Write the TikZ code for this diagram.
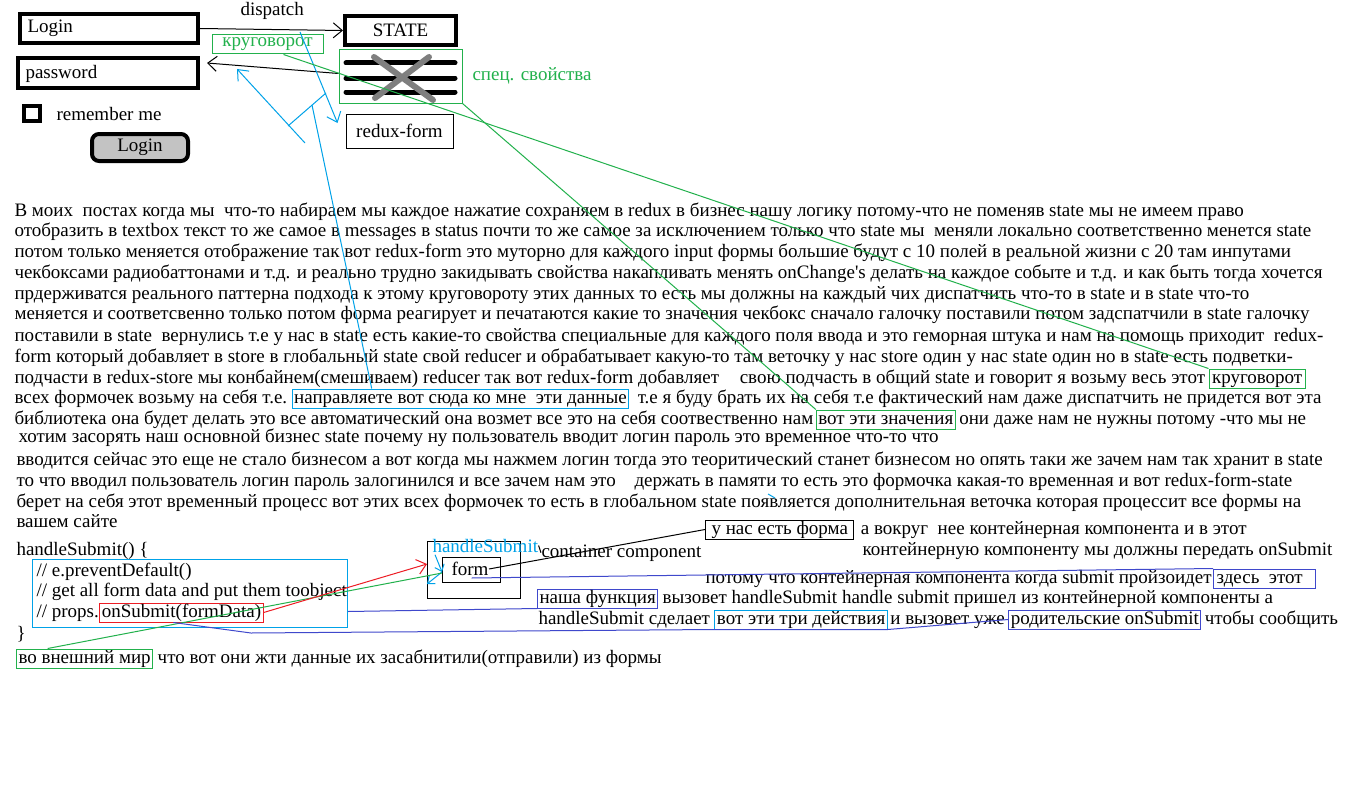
\documentclass[tikz,border=0pt]{standalone}
\usepackage{fontspec}
\setmainfont{Liberation Serif}
\usetikzlibrary{positioning,arrows.meta}

\definecolor{paintblue}{RGB}{0,162,232}
\definecolor{paintgreen}{RGB}{34,177,76}
\definecolor{paintnavy}{RGB}{63,72,204}
\definecolor{paintred}{RGB}{237,28,36}
\definecolor{paintgrey}{RGB}{127,127,127}
\definecolor{paintsilver}{RGB}{195,195,195}

\tikzset{
  txt/.style={anchor=base west, inner sep=0pt},
  field/.style={draw, line width=4pt, inner sep=0pt},
  hlbox/.style={draw=#1, anchor=base west, inner xsep=2pt, inner ysep=0pt, text height=14pt, text depth=5pt},
  barb/.style={-{Straight Barb[length=9pt,width=15pt]}},
}

\begin{document}
\begin{tikzpicture}[x=1pt,y=-1pt,line width=1pt,font=\fontsize{19}{21}\selectfont]
            \useasboundingbox[fill=white] (0,0) rectangle (1370,800);

            % login form mock-up
            \node[field, minimum width=178pt, minimum height=29pt] (loginfield) at (109,28.5) {};
            \node[txt] (logintxt) at (27,33) {Login};
            \node[field, minimum width=180pt, minimum height=30pt] (passfield) at (108,73) {};
            \node[txt] (passtxt) at (25,78) {password};
            \node[field, minimum width=16pt, minimum height=15pt] (checkbox) at (32,113.5) {};
            \node[txt] (remember) at (56,120) {remember me};
            \node[field, rounded corners=7pt, fill=paintsilver, minimum width=96pt, minimum height=27pt] (loginbtn) at (140,147.5) {Login};

            % state and redux-form
            \node[field, minimum width=111pt, minimum height=29pt] (state) at (400.5,30.5) {STATE};
            \node[draw=paintgreen, inner sep=0pt, minimum width=123pt, minimum height=53pt] (props) at (400.5,76.5) {};
            \foreach \y in {63,78,92}
                \draw[line width=5pt, line cap=round] (346,\y) -- (455,\y);
            \draw[paintgrey, line width=6pt, line cap=round] (374,57) -- (433,100) (429,57) -- (375,98);
            \node[txt, text=paintgreen] (spectxt) at (472,81) {спец. свойства};
            \node[draw, inner sep=0pt, minimum width=107pt, minimum height=34pt] (reduxform) at (399.5,131) {redux-form};
            \node[txt] (dispatch) at (240,16) {dispatch};
            \node[draw=paintgreen, text=paintgreen, inner sep=0pt, minimum width=111pt, minimum height=19pt] (krug1) at (267.5,44.5) {круговорот};

            % main text
            \node[txt] (l1) at (14,216) {В моих\ \ постах когда мы\ \ что-то набираем мы каждое нажатие сохраняем в redux в бизнес нашу логику потому-что не поменяв state мы не имеем право};
            \node[txt] (l2) at (14,236) {отобразить в textbox текст то же самое в messages в status почти то же самое за исключением только что state мы\ \ меняли локально соответственно менется state};
            \node[txt] (l3) at (14,257) {потом только меняется отображение так вот redux-form это муторно для каждого input формы большие будут с 10 полей в реальной жизни с 20 там инпутами};
            \node[txt] (l4) at (14,278) {чекбоксами радиобаттонами и т.д. и реально трудно закидывать свойства накапливать менять onChange\textquotesingle s делать на каждое событе и т.д. и как быть тогда хочется};
            \node[txt] (l5) at (14,299) {прдерживатся реального паттерна подхода к этому круговороту этих данных то есть мы должны на каждый чих диспатчить что-то в state и в state что-то};
            \node[txt] (l6) at (14,319) {меняется и соответсвенно только потом форма реагирует и печатаются какие то значения чекбокс сначало галочку поставили потом задспатчили в state галочку};
            \node[txt] (l7) at (14,341) {поставили в state\ \ вернулись т.е у нас в state есть какие-то свойства специальные для каждого поля ввода и это геморная штука и нам на помощь приходит\ \ redux-};
            \node[txt] (l8) at (14,362) {form который добавляет в store в глобальный state свой reducer и обрабатывает какую-то там веточку у нас store один у нас state один но в state есть подветки-};
            \node[txt] (l9) at (14,383) {подчасти в redux-store мы конбайнем(смешиваем) reducer так вот redux-form добавляет\hspace{16pt} свою подчасть в общий state и говорит я возьму весь этот};
            \node[hlbox=paintgreen, inner xsep=3pt] (krug2) at ([xshift=3pt]l9.base east) {круговорот};
            \node[txt] (l10) at (14,403) {всех формочек возьму на себя т.е.};
            \node[hlbox=paintblue] (napr) at ([xshift=4pt]l10.base east) {направляете вот сюда ко мне\ \ эти данные};
            \node[txt] (l10b) at ([xshift=8pt]napr.base east) {т.е я буду брать их на себя т.е фактический нам даже диспатчить не придется вот эта};
            \node[txt] (l11) at (14,424) {библиотека она будет делать это все автоматический она возмет все это на себя соотвественно нам};
            \node[hlbox=paintgreen] (znach) at ([xshift=2pt]l11.base east) {вот эти значения};
            \node[txt] (l11b) at ([xshift=3pt]znach.base east) {они даже нам не нужны потому -что мы не};
            \node[txt] (l12) at (18,442) {хотим засорять наш основной бизнес state почему ну пользователь вводит логин пароль это временное что-то что};
            \node[txt] (l13) at (16,465) {вводится сейчас это еще не стало бизнесом а вот когда мы нажмем логин тогда это теоритический станет бизнесом но опять таки же зачем нам так хранит в state};
            \node[txt] (l14) at (16,486) {то что вводил пользователь логин пароль залогинился и все зачем нам это\hspace{14pt} держать в памяти то есть это формочка какая-то временная и вот redux-form-state};
            \node[txt] (l15) at (16,507) {берет на себя этот временный процесс вот этих всех формочек то есть в глобальном state появляется дополнительная веточка которая процессит все формы на};
            \node[txt] (l16) at (16,527) {вашем сайте};

            % handleSubmit code
            \node[txt] (hs) at (16,555) {handleSubmit() \{};
            \node[draw=paintblue, inner sep=0pt, minimum width=315pt, minimum height=68pt, anchor=north west] (codebox) at (32,559) {};
            \node[txt] (c1) at (36,576) {// e.preventDefault()};
            \node[txt] (c2) at (36,596) {// get all form data and put them toobject};
            \node[txt] (c3) at (36,617) {// props.};
            \node[hlbox=paintred] (onsub) at (c3.base east) {onSubmit(formData)};
            \node[txt] (close) at (16,639) {\}};
            \node[hlbox=paintgreen] (vneshn) at (16,663) {во внешний мир};
            \node[txt] (vneshnb) at ([xshift=4pt]vneshn.base east) {что вот они жти данные их засабнитили(отправили) из формы};

            % container component
            \node[draw, inner sep=0pt, minimum width=93pt, minimum height=57pt, anchor=north west] (container) at (427,541) {};
            \node[draw, inner sep=0pt, minimum width=58pt, minimum height=25pt, anchor=north west] (formbox) at (442,557) {};
            \node[inner sep=0pt] (formtxt) at (470,569) {form};
            \node[txt, text=paintblue] (hsub) at (432,552) {handleSubmit};
            \node[txt] (contcomp) at (541,557) {container component};
            \node[hlbox=black, inner xsep=6pt] (nasforma) at (705,534) {у нас есть форма};
            \node[txt] (r1) at ([xshift=6pt]nasforma.base east) {а вокруг\ \ нее контейнерная компонента и в этот};
            \node[txt] (r2) at (862,555) {контейнерную компоненту мы должны передать onSubmit};
            \node[txt] (r3) at (705,583) {потому что контейнерная компонента когда submit пройзоидет};
            \node[hlbox=paintnavy, inner xsep=3pt] (zdes) at ([xshift=1pt]r3.base east) {здесь\ \ этот\ \ \ };
            \node[hlbox=paintnavy] (nasha) at (537,603) {наша функция};
            \node[txt] (r4) at ([xshift=4pt]nasha.base east) {вызовет handleSubmit handle submit пришел из контейнерной компоненты а};
            \node[txt] (r5) at (538,624) {handleSubmit сделает};
            \node[hlbox=paintblue] (tri) at ([xshift=4pt]r5.base east) {вот эти три действия};
            \node[txt] (r5b) at ([xshift=2pt]tri.base east) {и вызовет уже};
            \node[hlbox=paintnavy] (roditel) at ([xshift=3pt]r5b.base east) {родительские onSubmit};
            \node[txt] (r5c) at ([xshift=3pt]roditel.base east) {чтобы сообщить};

            % black arrows
            \draw[barb] (loginfield.east) -- (state.west);
            \draw[barb] ([yshift=3pt]props.west) -- ([xshift=7pt,yshift=10pt]passfield.east);
            \draw (hsub.east) -- (contcomp.west);
            \draw (formtxt.east) -- (nasforma.west);

            % blue strokes
            \coordinate (blueA) at (300,32);
            \coordinate (blueC1) at (305,143);
            \coordinate (blueC2) at (237,69);
            \coordinate (blueX1) at (288,126);
            \coordinate (blueX2) at (326,93);
            \coordinate (blueB) at (312,105);
            \coordinate (blueD) at ([yshift=-14pt]container.west);
            \draw[paintblue, barb] (blueA) -- ([xshift=-8pt,yshift=8pt]reduxform.west);
            \draw[paintblue, barb] (blueC1) -- (blueC2);
            \draw[paintblue] (blueX1) -- (blueX2);
            \draw[paintblue] (blueB) -- ([xshift=80pt]napr.north west);
            \draw[paintblue, -{Straight Barb[length=6pt,width=10pt]}] ([xshift=3pt,yshift=-2pt]hsub.south west) -- ([yshift=-2pt]formbox.west);
            \draw[paintblue, -{Straight Barb[length=6pt,width=10pt]}] ([yshift=-2pt]formbox.west) -- (blueD);
            \draw[paintblue] (768,494) -- (775,498);

            % green strokes
            \draw[paintgreen] ([xshift=16pt]krug1.south) -- (krug2.north west);
            \draw[paintgreen] (props.south east) -- (znach.north west);
            \draw[paintgreen] ([xshift=-37pt]vneshn.north) -- ([yshift=-3pt]formbox.west);

            % red and navy strokes
            \draw[paintred, barb] (onsub.east) -- ([yshift=6pt]container.west);
            \coordinate (navybend) at (251,633);
            \draw[paintnavy] ([yshift=-8pt]formbox.center) -- (705,575) -- (zdes.north west);
            \draw[paintnavy] ([yshift=-18pt]codebox.east) -- (nasha.south west);
            \draw[paintnavy] ([xshift=-8pt]onsub.south) -- (navybend) -- (tri.south west) -- (tri.south east) -- (roditel.west);
        \end{tikzpicture}
\end{document}
